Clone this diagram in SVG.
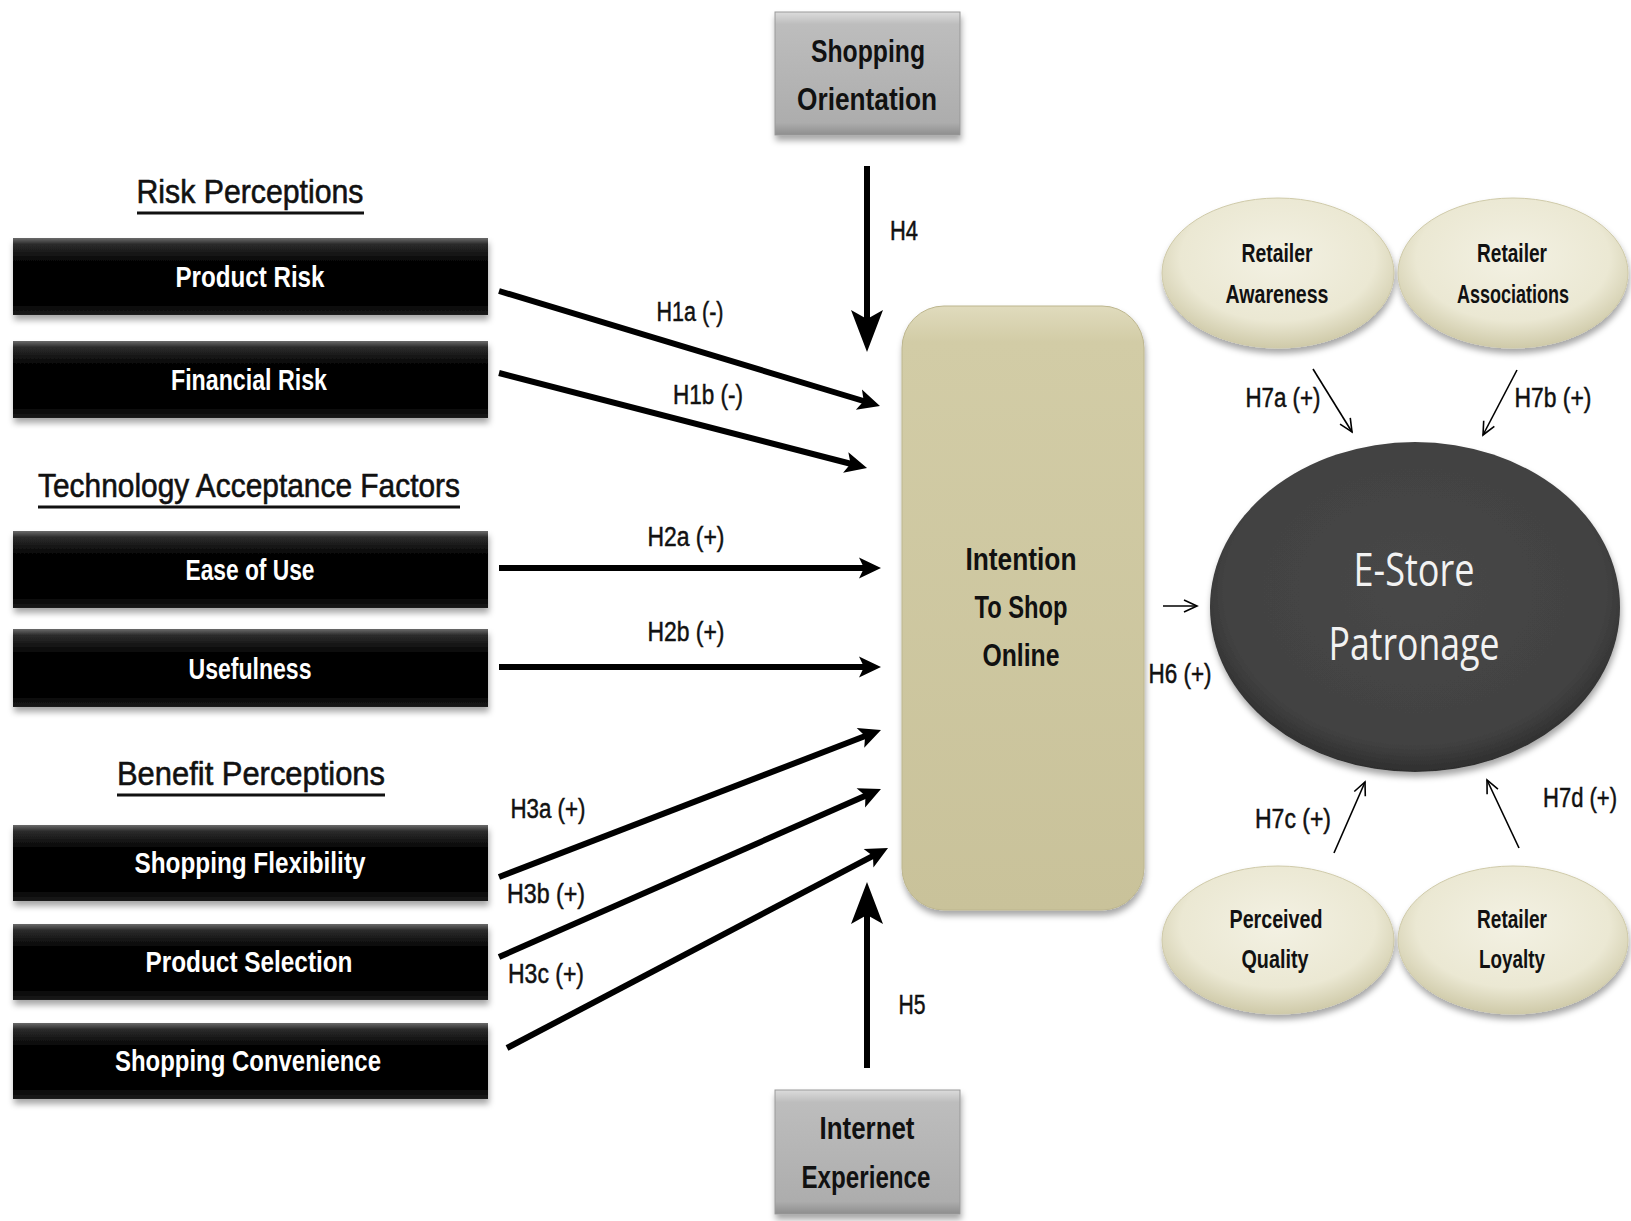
<svg xmlns="http://www.w3.org/2000/svg" width="1631" height="1221" viewBox="0 0 1631 1221">
<style>
.hd{font-family:"Liberation Sans Narrow","Liberation Sans",Arial,sans-serif;font-size:34px;fill:#111;stroke:#111;stroke-width:0.6;text-anchor:middle}
.bx{font-family:"Liberation Sans Narrow","Liberation Sans",Arial,sans-serif;font-size:30px;font-weight:bold;fill:#fff;text-anchor:middle}
.gt{font-family:"Liberation Sans Narrow","Liberation Sans",Arial,sans-serif;font-size:31px;font-weight:bold;fill:#111;text-anchor:middle}
.et{font-family:"Liberation Sans Narrow","Liberation Sans",Arial,sans-serif;font-size:26px;font-weight:bold;fill:#111;text-anchor:middle}
.lb{font-family:"Liberation Sans Narrow","Liberation Sans",Arial,sans-serif;font-size:27px;fill:#111;stroke:#111;stroke-width:0.5;text-anchor:middle}
.big{font-family:"Open Sans","Liberation Sans",Arial,sans-serif;font-size:46px;fill:#f2f2f2;text-anchor:middle}
.thick{stroke:#000;stroke-width:6;fill:none}
.thin{stroke:#000;stroke-width:1.6;fill:none}
.ul{stroke:#111;stroke-width:3}
</style>
<defs>
<linearGradient id="gBlack" x1="0" y1="0" x2="0" y2="1">
<stop offset="0" stop-color="#6a6a6a"/>
<stop offset="0.08" stop-color="#2c2c2c"/>
<stop offset="0.3" stop-color="#050505"/>
<stop offset="0.85" stop-color="#000"/>
<stop offset="1" stop-color="#1c1c1c"/>
</linearGradient>
<linearGradient id="gGray" x1="0" y1="0" x2="0" y2="1">
<stop offset="0" stop-color="#dcdcdc"/>
<stop offset="0.1" stop-color="#bdbdbd"/>
<stop offset="0.9" stop-color="#adadad"/>
<stop offset="1" stop-color="#8e8e8e"/>
</linearGradient>
<linearGradient id="gTan" x1="0" y1="0" x2="0" y2="1">
<stop offset="0" stop-color="#e0dbbd"/>
<stop offset="0.06" stop-color="#d2cca6"/>
<stop offset="1" stop-color="#c9c29a"/>
</linearGradient>
<radialGradient id="gCream" cx="0.5" cy="0.4" r="0.6">
<stop offset="0" stop-color="#f3f1e3"/>
<stop offset="0.7" stop-color="#ebe8d3"/>
<stop offset="1" stop-color="#cfcaa9"/>
</radialGradient>
<radialGradient id="gDark" cx="0.5" cy="0.45" r="0.55">
<stop offset="0" stop-color="#474747"/>
<stop offset="0.85" stop-color="#424242"/>
<stop offset="1" stop-color="#2e2e2e"/>
</radialGradient>
<filter id="sh" x="-10%" y="-10%" width="125%" height="135%">
<feDropShadow dx="1" dy="5" stdDeviation="3" flood-color="#000" flood-opacity="0.35"/>
</filter>
<marker id="ah" markerUnits="userSpaceOnUse" markerWidth="22" markerHeight="21" refX="10" refY="10.5" orient="auto" overflow="visible">
<path d="M0,0 L22,10.5 L0,21 L5,10.5 Z" fill="#000"/>
</marker>
<marker id="ahv" markerUnits="userSpaceOnUse" markerWidth="42" markerHeight="32" refX="30" refY="16" orient="auto" overflow="visible">
<path d="M0,0 L42,16 L0,32 L9,16 Z" fill="#000"/>
</marker>
<marker id="ao" markerUnits="userSpaceOnUse" markerWidth="14" markerHeight="12" refX="13" refY="6" orient="auto" overflow="visible">
<path d="M0,0 L13,6 L0,12" fill="none" stroke="#000" stroke-width="1.6"/>
</marker>
</defs>
<rect width="1631" height="1221" fill="#fff"/>

<g id="headings">
<text class="hd" x="250" y="203" textLength="227" lengthAdjust="spacingAndGlyphs">Risk Perceptions</text>
<line class="ul" x1="137" y1="213" x2="364" y2="213"/>
<text class="hd" x="249" y="497" textLength="422" lengthAdjust="spacingAndGlyphs">Technology Acceptance Factors</text>
<line class="ul" x1="38" y1="507" x2="460" y2="507"/>
<text class="hd" x="251" y="785" textLength="268" lengthAdjust="spacingAndGlyphs">Benefit Perceptions</text>
<line class="ul" x1="117" y1="795" x2="385" y2="795"/>
</g>

<g id="product-risk"><rect x="13" y="238" width="475" height="77" fill="url(#gBlack)" filter="url(#sh)"/><text class="bx" x="250" y="287" textLength="149" lengthAdjust="spacingAndGlyphs">Product Risk</text></g>
<g id="financial-risk"><rect x="13" y="341" width="475" height="77" fill="url(#gBlack)" filter="url(#sh)"/><text class="bx" x="249" y="390" textLength="156" lengthAdjust="spacingAndGlyphs">Financial Risk</text></g>
<g id="ease-of-use"><rect x="13" y="531" width="475" height="77" fill="url(#gBlack)" filter="url(#sh)"/><text class="bx" x="250" y="580" textLength="129" lengthAdjust="spacingAndGlyphs">Ease of Use</text></g>
<g id="usefulness"><rect x="13" y="629" width="475" height="78" fill="url(#gBlack)" filter="url(#sh)"/><text class="bx" x="250" y="679" textLength="123" lengthAdjust="spacingAndGlyphs">Usefulness</text></g>
<g id="shopping-flexibility"><rect x="13" y="825" width="475" height="76" fill="url(#gBlack)" filter="url(#sh)"/><text class="bx" x="250" y="873" textLength="231" lengthAdjust="spacingAndGlyphs">Shopping Flexibility</text></g>
<g id="product-selection"><rect x="13" y="924" width="475" height="76" fill="url(#gBlack)" filter="url(#sh)"/><text class="bx" x="249" y="972" textLength="207" lengthAdjust="spacingAndGlyphs">Product Selection</text></g>
<g id="shopping-convenience"><rect x="13" y="1023" width="475" height="76" fill="url(#gBlack)" filter="url(#sh)"/><text class="bx" x="248" y="1071" textLength="266" lengthAdjust="spacingAndGlyphs">Shopping Convenience</text></g>

<g id="shopping-orientation"><rect x="775" y="12" width="185" height="123" fill="url(#gGray)" stroke="#999" stroke-width="1" filter="url(#sh)"/>
<text class="gt" x="868" y="62" textLength="114" lengthAdjust="spacingAndGlyphs">Shopping</text>
<text class="gt" x="867" y="110" textLength="140" lengthAdjust="spacingAndGlyphs">Orientation</text></g>
<g id="internet-experience"><rect x="775" y="1090" width="185" height="124" fill="url(#gGray)" stroke="#999" stroke-width="1" filter="url(#sh)"/>
<text class="gt" x="867" y="1139" textLength="95" lengthAdjust="spacingAndGlyphs">Internet</text>
<text class="gt" x="866" y="1188" textLength="129" lengthAdjust="spacingAndGlyphs">Experience</text></g>

<g id="intention"><rect x="902" y="306" width="242" height="604" rx="42" ry="42" fill="url(#gTan)" stroke="#bdb68e" stroke-width="1" filter="url(#sh)"/>
<text class="gt" x="1021" y="570" textLength="111" lengthAdjust="spacingAndGlyphs">Intention</text>
<text class="gt" x="1021" y="618" textLength="93" lengthAdjust="spacingAndGlyphs">To Shop</text>
<text class="gt" x="1021" y="666" textLength="77" lengthAdjust="spacingAndGlyphs">Online</text></g>

<g id="e-store-patronage"><ellipse cx="1415" cy="607" rx="205" ry="165" fill="url(#gDark)" filter="url(#sh)"/>
<text class="big" x="1414" y="586" textLength="121" lengthAdjust="spacingAndGlyphs">E-Store</text>
<text class="big" x="1414" y="660" textLength="171" lengthAdjust="spacingAndGlyphs">Patronage</text></g>

<g id="retailer-awareness"><ellipse cx="1278" cy="273" rx="116" ry="75" fill="url(#gCream)" stroke="#cfcaa9" filter="url(#sh)"/>
<text class="et" x="1277" y="262" textLength="71" lengthAdjust="spacingAndGlyphs">Retailer</text>
<text class="et" x="1277" y="303" textLength="103" lengthAdjust="spacingAndGlyphs">Awareness</text></g>
<g id="retailer-associations"><ellipse cx="1513" cy="273" rx="115" ry="75" fill="url(#gCream)" stroke="#cfcaa9" filter="url(#sh)"/>
<text class="et" x="1512" y="262" textLength="70" lengthAdjust="spacingAndGlyphs">Retailer</text>
<text class="et" x="1513" y="303" textLength="112" lengthAdjust="spacingAndGlyphs">Associations</text></g>
<g id="perceived-quality"><ellipse cx="1278" cy="940" rx="116" ry="74" fill="url(#gCream)" stroke="#cfcaa9" filter="url(#sh)"/>
<text class="et" x="1276" y="928" textLength="93" lengthAdjust="spacingAndGlyphs">Perceived</text>
<text class="et" x="1275" y="968" textLength="67" lengthAdjust="spacingAndGlyphs">Quality</text></g>
<g id="retailer-loyalty"><ellipse cx="1513" cy="940" rx="115" ry="74" fill="url(#gCream)" stroke="#cfcaa9" filter="url(#sh)"/>
<text class="et" x="1512" y="928" textLength="70" lengthAdjust="spacingAndGlyphs">Retailer</text>
<text class="et" x="1512" y="968" textLength="66" lengthAdjust="spacingAndGlyphs">Loyalty</text></g>

<g id="connectors">
<path class="thick" d="M499,291 L868.5,402.5" marker-end="url(#ah)"/>
<path class="thick" d="M499,373 L855.4,465" marker-end="url(#ah)"/>
<path class="thick" d="M499,568 L869,568" marker-end="url(#ah)"/>
<path class="thick" d="M499,667 L869,667" marker-end="url(#ah)"/>
<path class="thick" d="M499,877 L869.8,734.3" marker-end="url(#ah)"/>
<path class="thick" d="M499,957 L870,793.8" marker-end="url(#ah)"/>
<path class="thick" d="M507,1048 L877.4,853.6" marker-end="url(#ah)"/>
<path class="thick" d="M867,166 L867,340" marker-end="url(#ahv)"/>
<path class="thick" d="M867,1068 L867,894" marker-end="url(#ahv)"/>
<path class="thin" d="M1163,606 L1197,606" marker-end="url(#ao)"/>
<path class="thin" d="M1313,369 L1352,432" marker-end="url(#ao)"/>
<path class="thin" d="M1517,370 L1483,435" marker-end="url(#ao)"/>
<path class="thin" d="M1334,853 L1365,782" marker-end="url(#ao)"/>
<path class="thin" d="M1519,848 L1487,780" marker-end="url(#ao)"/>
<text class="lb" x="690" y="321" textLength="67" lengthAdjust="spacingAndGlyphs">H1a (-)</text>
<text class="lb" x="708" y="404" textLength="70" lengthAdjust="spacingAndGlyphs">H1b (-)</text>
<text class="lb" x="686" y="546" textLength="77" lengthAdjust="spacingAndGlyphs">H2a (+)</text>
<text class="lb" x="686" y="641" textLength="77" lengthAdjust="spacingAndGlyphs">H2b (+)</text>
<text class="lb" x="548" y="818" textLength="75" lengthAdjust="spacingAndGlyphs">H3a (+)</text>
<text class="lb" x="546" y="903" textLength="78" lengthAdjust="spacingAndGlyphs">H3b (+)</text>
<text class="lb" x="546" y="983" textLength="76" lengthAdjust="spacingAndGlyphs">H3c (+)</text>
<text class="lb" x="904" y="240" textLength="28" lengthAdjust="spacingAndGlyphs">H4</text>
<text class="lb" x="912" y="1014" textLength="27" lengthAdjust="spacingAndGlyphs">H5</text>
<text class="lb" x="1180" y="683" textLength="63" lengthAdjust="spacingAndGlyphs">H6 (+)</text>
<text class="lb" x="1283" y="407" textLength="75" lengthAdjust="spacingAndGlyphs">H7a (+)</text>
<text class="lb" x="1553" y="407" textLength="77" lengthAdjust="spacingAndGlyphs">H7b (+)</text>
<text class="lb" x="1293" y="828" textLength="76" lengthAdjust="spacingAndGlyphs">H7c (+)</text>
<text class="lb" x="1580" y="807" font-size="25" textLength="74" lengthAdjust="spacingAndGlyphs">H7d (+)</text>
</g>
</svg>
